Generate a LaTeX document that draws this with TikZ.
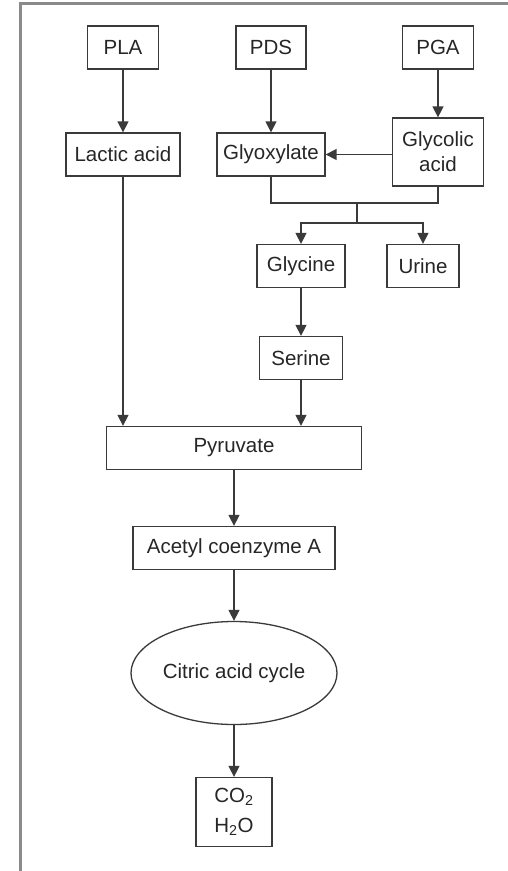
\documentclass[tikz,border=0pt]{standalone}
\usepackage{fontspec}
\setmainfont{Liberation Sans}
\usetikzlibrary{positioning, arrows.meta, shapes.geometric}

\definecolor{boxline}{HTML}{3A3A3A}
\definecolor{frameline}{HTML}{8A8A8A}

\tikzset{
  box/.style={draw=boxline, line width=1.3pt, inner sep=0pt, minimum height=43pt, text=black!85},
  ellip/.style={ellipse, draw=boxline, line width=1.3pt, inner sep=0pt, text=black!85},
}

\begin{document}
\begin{tikzpicture}[x=1pt, y=-1pt, on grid, font=\fontsize{20.5}{25}\selectfont,
    >={Triangle[length=11pt, width=11pt]}, every path/.style={line width=1.4pt, boxline}]
  \useasboundingbox (0,0) rectangle (508,871);
  % frame
  \draw[frameline, line width=3pt] (20,871) -- (20,3.7) -- (508,3.7);

  \node[box, minimum width=71pt] (pla) at (123,47.5) {PLA};
  \node[box, minimum width=70pt] (pds) [right=148pt of pla] {PDS};
  \node[box, minimum width=71pt] (pga) [right=167pt of pds] {PGA};
  \node[box, minimum width=114pt] (lactic) [below=107pt of pla] {Lactic acid};
  \node[box, minimum width=108pt] (glyox) [below=107pt of pds] {Glyoxylate};
  \node[box, minimum width=91pt, minimum height=68pt, align=center] (glycolic) [below=104.5pt of pga] {Glycolic\\acid};
  \node[box, minimum width=88pt] (glycine) [below right=111.5pt and 30pt of glyox] {Glycine};
  \node[box, minimum width=72pt] (urine) [right=122pt of glycine] {Urine};
  \node[box, minimum width=83pt] (serine) [below=92pt of glycine] {Serine};
  \node[box, minimum width=255pt] (pyruvate) [below left=90pt and 67pt of serine] {Pyruvate};
  \node[box, minimum width=202pt] (acetyl) [below=100pt of pyruvate] {Acetyl coenzyme A};
  \node[ellip, minimum width=206pt, minimum height=103pt] (citric) [below=125pt of acetyl] {Citric acid cycle};
  \node[box, minimum width=76pt, minimum height=69pt, align=center, font=\fontsize{20.5}{30}\selectfont] (co2) [below=139pt of citric] {CO\textsubscript{2}\\H\textsubscript{2}O};

  \coordinate (merge) at (357,203);
  \coordinate (split) at (357,223);

  \draw[->] (pla) -- (lactic);
  \draw[->] (pds) -- (glyox);
  \draw[->] (pga) -- (glycolic);
  \draw[->] (glycolic.west |- glyox.east) -- (glyox.east);
  \draw (glyox.south) |- (merge) -| (glycolic.south);
  \draw (merge) -- (split);
  \draw[->] (split) -| (glycine.north);
  \draw[->] (split) -| (urine.north);
  \draw[->] (glycine) -- (serine);
  \draw[->] (serine.south) -- (serine.south |- pyruvate.north);
  \draw[->] (lactic.south) -- (lactic.south |- pyruvate.north);
  \draw[->] (pyruvate.south -| acetyl.north) -- (acetyl.north);
  \draw[->] (acetyl) -- (citric);
  \draw[->] (citric) -- (co2);
\end{tikzpicture}
\end{document}
